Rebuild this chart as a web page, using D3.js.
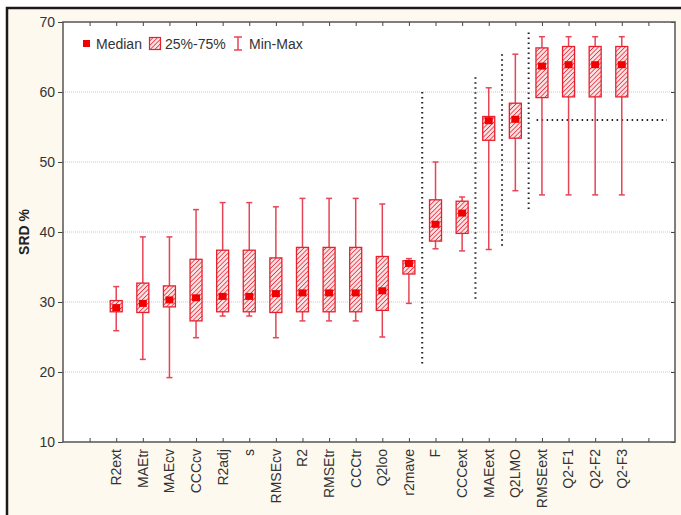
<!DOCTYPE html>
<html>
<head>
<meta charset="utf-8">
<script src="https://cdn.jsdelivr.net/npm/d3@7"></script>
<style>
  html, body { margin: 0; padding: 0; background: #ffffff; }
  svg { display: block; font-family: "Liberation Sans", Arial, sans-serif; }
</style>
</head>
<body>
<svg id="chart" width="681" height="515"></svg>
<script>
// ---- data ----
const categories = ["R2ext","MAEtr","MAEcv","CCCcv","R2adj","s","RMSEcv","R2","RMSEtr","CCCtr","Q2loo","r2mave","F","CCCext","MAEext","Q2LMO","RMSEext","Q2-F1","Q2-F2","Q2-F3"];
const minVals    = [25.9, 21.8, 19.2, 24.9, 28.0, 28.0, 24.9, 27.3, 27.3, 27.3, 25.0, 29.8, 37.6, 37.3, 37.5, 45.9, 45.3, 45.3, 45.3, 45.3];
const q1Vals     = [28.6, 28.5, 29.3, 27.3, 28.6, 28.6, 28.5, 28.6, 28.6, 28.6, 28.8, 34.0, 38.7, 39.8, 53.1, 53.4, 59.2, 59.3, 59.3, 59.3];
const medianVals = [29.2, 29.8, 30.3, 30.6, 30.8, 30.8, 31.2, 31.3, 31.3, 31.3, 31.6, 35.5, 41.1, 42.7, 55.9, 56.1, 63.7, 63.9, 63.9, 63.9];
const q3Vals     = [30.2, 32.7, 32.3, 36.1, 37.4, 37.4, 36.3, 37.8, 37.8, 37.8, 36.5, 35.9, 44.6, 44.4, 56.5, 58.4, 66.3, 66.5, 66.5, 66.5];
const maxVals    = [32.2, 39.3, 39.3, 43.2, 44.2, 44.2, 43.6, 44.8, 44.8, 44.8, 44.0, 36.2, 50.0, 45.0, 60.6, 65.4, 67.9, 67.9, 67.9, 67.9];
const yTicks = [10, 20, 30, 40, 50, 60, 70];
// dotted separator lines: slot position and value range
const vLineSlots = [12.5, 14.5, 15.5, 16.5];
const vLineTop   = [60.0, 62.1, 65.4, 68.5];
const vLineBot   = [20.9, 30.0, 37.8, 43.2];
const hLineValue = 56.0;
const hLineFrom  = 16.8;
const hLineTo    = 21.7;
const yLabel = "SRD %";
const legendLabels = ["Median", "25%-75%", "Min-Max"];

// ---- layout ----
const svg = d3.select("#chart");
const L = 63, R = 675, T = 22, B = 442;
const red = "#e8202e";
const whiskerRed = "#e64555";

// outer frame
svg.append("rect").attr("x", 7).attr("y", 8).attr("width", 700).attr("height", 540)
  .attr("fill", "#fdf9ef").attr("stroke", "#1a1a1a").attr("stroke-width", 2.5);

const x = d3.scaleLinear().domain([-1, 22]).range([L, R]);
const y = d3.scaleLinear().domain([10, 70]).range([B, T]);

// hatch pattern
const defs = svg.append("defs");
const pat = defs.append("pattern").attr("id", "hatch").attr("patternUnits", "userSpaceOnUse")
  .attr("width", 3.2).attr("height", 3.2).attr("patternTransform", "rotate(45)");
pat.append("rect").attr("width", 3.2).attr("height", 3.2).attr("fill", "#fbe3e3");
pat.append("line").attr("x1", 0).attr("y1", 0).attr("x2", 0).attr("y2", 3.2)
  .attr("stroke", "#ec3040").attr("stroke-width", 1.6);

// plot area
svg.append("rect").attr("x", L).attr("y", T).attr("width", R - L).attr("height", B - T).attr("fill", "#ffffff");

// gridlines
svg.append("g").selectAll("line").data(yTicks.filter(d => d > 10 && d < 70)).join("line")
  .attr("x1", L).attr("x2", R).attr("y1", d => y(d)).attr("y2", d => y(d))
  .attr("stroke", "#c8c8c8").attr("stroke-width", 1).attr("stroke-dasharray", "1,1");

// axes
const slots = d3.range(0, 22);
svg.append("g").attr("transform", `translate(0,${B})`)
  .call(d3.axisBottom(x).tickValues(slots).tickSize(-4).tickFormat(""))
  .call(g => g.select(".domain").remove())
  .call(g => g.selectAll("line").attr("stroke", "#444"));
svg.append("g").attr("transform", `translate(0,${T})`)
  .call(d3.axisTop(x).tickValues(slots).tickSize(-4).tickFormat(""))
  .call(g => g.select(".domain").remove())
  .call(g => g.selectAll("line").attr("stroke", "#444"));
const yAx = svg.append("g").attr("transform", `translate(${L},0)`)
  .call(d3.axisLeft(y).tickValues(yTicks).tickSize(5).tickPadding(3))
  .call(g => g.select(".domain").remove())
  .call(g => g.selectAll("line").attr("stroke", "#444"));
yAx.selectAll("text").attr("font-size", 14).attr("fill", "#333")
  .attr("font-family", "Liberation Sans, Arial, sans-serif");
svg.append("g").attr("transform", `translate(${R},0)`)
  .call(d3.axisRight(y).tickValues(yTicks).tickSize(-4).tickFormat(""))
  .call(g => g.select(".domain").remove())
  .call(g => g.selectAll("line").attr("stroke", "#444"));

// plot border
svg.append("rect").attr("x", L).attr("y", T).attr("width", R - L).attr("height", B - T)
  .attr("fill", "none").attr("stroke", "#555").attr("stroke-width", 1.5);

// x labels
svg.append("g").selectAll("text").data(categories).join("text")
  .attr("transform", (d, i) => `translate(${x(i + 1)},449) rotate(-90)`)
  .attr("dy", "0.35em").attr("text-anchor", "end")
  .attr("font-size", 14).attr("fill", "#333").text(d => d);

// y label
svg.append("text").attr("transform", `translate(24,${(T + B) / 2}) rotate(-90)`)
  .attr("text-anchor", "middle").attr("dy", "0.35em")
  .attr("font-size", 14).attr("font-weight", "bold").attr("fill", "#222").text(yLabel);

// dotted separators
svg.append("g").selectAll("line").data(vLineSlots).join("line")
  .attr("x1", d => x(d)).attr("x2", d => x(d))
  .attr("y1", (d, i) => y(vLineTop[i])).attr("y2", (d, i) => y(vLineBot[i]))
  .attr("stroke", "#222").attr("stroke-width", 2).attr("stroke-dasharray", "1.5,3.5");
svg.append("line").attr("x1", x(hLineFrom)).attr("x2", x(hLineTo))
  .attr("y1", y(hLineValue)).attr("y2", y(hLineValue))
  .attr("stroke", "#222").attr("stroke-width", 2).attr("stroke-dasharray", "1.5,3.5");

// boxes
const bw = 12, cap = 6, ms = 8;
const data = categories.map((c, i) => ({ c, i, mn: minVals[i], q1: q1Vals[i], md: medianVals[i], q3: q3Vals[i], mx: maxVals[i] }));
const gb = svg.append("g").selectAll("g").data(data).join("g")
  .attr("transform", d => `translate(${x(d.i + 1)},0)`);
gb.append("line").attr("x1", 0).attr("x2", 0).attr("y1", d => y(d.mx)).attr("y2", d => y(d.mn))
  .attr("stroke", whiskerRed).attr("stroke-width", 1.5);
gb.append("line").attr("x1", -cap / 2).attr("x2", cap / 2).attr("y1", d => y(d.mx)).attr("y2", d => y(d.mx))
  .attr("stroke", whiskerRed).attr("stroke-width", 1.5);
gb.append("line").attr("x1", -cap / 2).attr("x2", cap / 2).attr("y1", d => y(d.mn)).attr("y2", d => y(d.mn))
  .attr("stroke", whiskerRed).attr("stroke-width", 1.5);
gb.append("rect").attr("x", -bw / 2).attr("width", bw)
  .attr("y", d => y(d.q3)).attr("height", d => y(d.q1) - y(d.q3))
  .attr("fill", "url(#hatch)").attr("stroke", red).attr("stroke-width", 1.3);
gb.append("rect").attr("x", -ms / 2).attr("width", ms)
  .attr("y", d => y(d.md) - ms / 2 + 0.5).attr("height", ms - 1)
  .attr("fill", "#f00000");

// legend
const lg = svg.append("g");
lg.append("rect").attr("x", 83).attr("y", 40).attr("width", 7).attr("height", 7).attr("fill", "#f00000");
lg.append("text").attr("x", 96).attr("y", 48.5).attr("font-size", 14).attr("fill", "#333").text(legendLabels[0]);
lg.append("rect").attr("x", 149.5).attr("y", 37.5).attr("width", 11).attr("height", 12)
  .attr("fill", "url(#hatch)").attr("stroke", red).attr("stroke-width", 1.2);
lg.append("text").attr("x", 165).attr("y", 48.5).attr("font-size", 14).attr("fill", "#333").text(legendLabels[1]);
lg.append("line").attr("x1", 238).attr("x2", 238).attr("y1", 37).attr("y2", 50).attr("stroke", whiskerRed).attr("stroke-width", 1.5);
lg.append("line").attr("x1", 234).attr("x2", 242).attr("y1", 37).attr("y2", 37).attr("stroke", whiskerRed).attr("stroke-width", 1.5);
lg.append("line").attr("x1", 234).attr("x2", 242).attr("y1", 50).attr("y2", 50).attr("stroke", whiskerRed).attr("stroke-width", 1.5);
lg.append("text").attr("x", 249).attr("y", 48.5).attr("font-size", 14).attr("fill", "#333").text(legendLabels[2]);
</script>
</body>
</html>
